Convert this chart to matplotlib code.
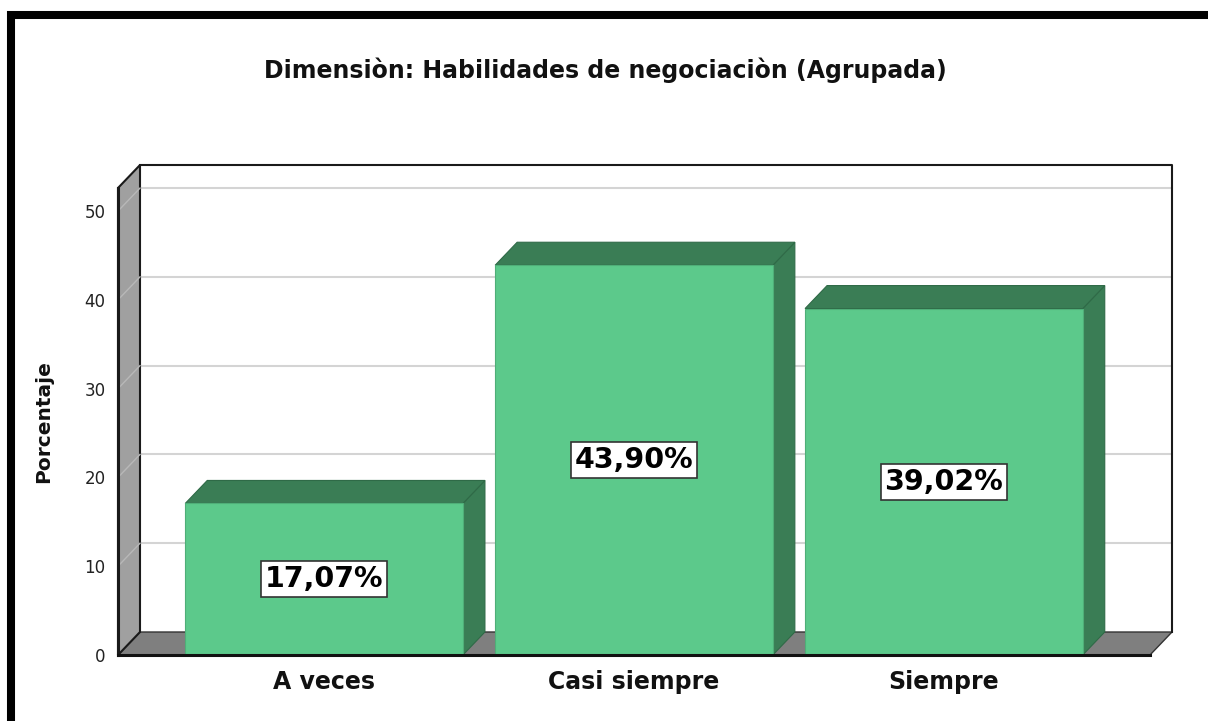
import matplotlib
matplotlib.use("Agg")
import matplotlib.pyplot as plt
from matplotlib.patches import Polygon, Rectangle

plt.rcParams["font.family"] = ["DejaVu Sans"]

title = "Dimensiòn: Habilidades de negociaciòn (Agrupada)"
categories = ["A veces", "Casi siempre", "Siempre"]
values = [17.07, 43.90, 39.02]
labels = ["17,07%", "43,90%", "39,02%"]
yticks = [0, 10, 20, 30, 40, 50]

# 3d look: depth offset in data units
DX = 0.071
DY = 2.59
half_w = 0.448
x_left, x_right = -0.665, 2.665
wall_top = 52.6

front_c = "#5cc98b"
side_c = "#3a7d55"

fig = plt.figure(figsize=(12.08, 7.21), dpi=100)
ax = fig.add_axes([118 / 1208, 66 / 721, 1054 / 1208, 490 / 721])
ax.set_xlim(x_left, x_right + DX)
ax.set_ylim(0, wall_top + DY)
for s in ax.spines.values():
    s.set_visible(False)
ax.patch.set_alpha(0)

# floor
ax.add_patch(Polygon([(x_left, 0), (x_right, 0), (x_right + DX, DY), (x_left + DX, DY)],
                     closed=True, facecolor="#7f7f7f", edgecolor="#333333", lw=1, zorder=1))
# back wall gridlines
for t in yticks[1:]:
    ax.plot([x_left + DX, x_right + DX], [t + DY, t + DY], color="#d4d4d4", lw=1.5, zorder=1.5)
# back wall outline
ax.plot([x_left + DX, x_right + DX, x_right + DX], [wall_top + DY, wall_top + DY, DY],
        color="#1a1a1a", lw=1.5, zorder=2, clip_on=False)
# left side wall
ax.add_patch(Polygon([(x_left, 0), (x_left, wall_top), (x_left + DX, wall_top + DY), (x_left + DX, DY)],
                     closed=True, facecolor="#a0a0a0", edgecolor="#1a1a1a", lw=1.5, zorder=2,
                     clip_on=False))
for t in yticks[1:]:
    ax.plot([x_left, x_left + DX], [t, t + DY], color="#b8b8b8", lw=1, zorder=2.1)
ax.plot([x_left, x_left], [0, wall_top], color="#1a1a1a", lw=2.2, zorder=2.2, clip_on=False)

# bars
for i, (v, lab) in enumerate(zip(values, labels)):
    x0, x1 = i - half_w, i + half_w
    ax.add_patch(Polygon([(x1, 0), (x1 + DX, DY), (x1 + DX, v + DY), (x1, v)], closed=True,
                         facecolor=side_c, edgecolor="#2f6a47", lw=0.8, zorder=3))
    ax.add_patch(Polygon([(x0, v), (x0 + DX, v + DY), (x1 + DX, v + DY), (x1, v)], closed=True,
                         facecolor=side_c, edgecolor="#2f6a47", lw=0.8, zorder=3))
    ax.add_patch(Rectangle((x0, 0), x1 - x0, v, facecolor=front_c, edgecolor="#4fae78",
                           lw=0.8, zorder=4))
    ax.text(i, v / 2, lab, ha="center", va="center", fontsize=20.5, fontweight="bold",
            zorder=5, bbox=dict(boxstyle="square,pad=0.14", facecolor="white",
                                edgecolor="#333333", lw=1.2))

# front baseline
ax.plot([x_left, x_right], [0, 0], color="#111111", lw=2.2, zorder=6, clip_on=False)

ax.set_yticks(yticks)
ax.set_yticklabels([str(t) for t in yticks], fontsize=12, color="#222222")
ax.set_xticks(range(len(categories)))
ax.set_xticklabels(categories, fontsize=17, fontweight="bold", color="#111111")
ax.tick_params(axis="y", length=0, pad=9)
ax.tick_params(axis="x", length=0, pad=11)

fig.text(605 / 1208, 1 - 70 / 721, title, ha="center", va="center", fontsize=17,
         fontweight="bold", color="#111111")
fig.text(44 / 1208, 1 - 422 / 721, "Porcentaje", ha="center", va="center", rotation=90,
         fontsize=14.5, fontweight="bold", color="#111111")

# outer frame (only top and left visible)
fig.add_artist(Rectangle((11 / 1208, -0.2), 2.0, 1.2 - 15 / 721, transform=fig.transFigure,
                         fill=False, edgecolor="black", lw=5.8, clip_on=False))

fig.savefig("out.png", dpi=100)
